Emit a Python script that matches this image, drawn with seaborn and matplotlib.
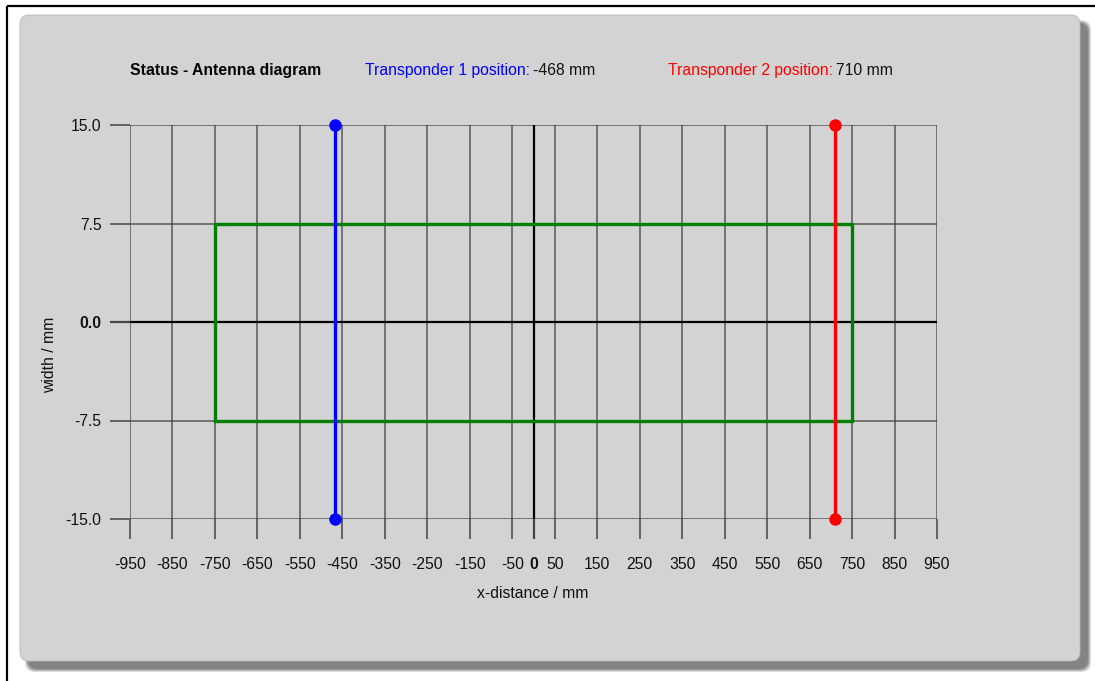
import numpy as np
import pandas as pd
import matplotlib
matplotlib.use("Agg")
import matplotlib.pyplot as plt
import seaborn as sns
from matplotlib.patches import FancyBboxPatch

# chart data
tp_names = ["Transponder 1", "Transponder 2"]
tp_pos = [-468, 710]          # mm
tp_colors = ["#0000ff", "#ff0000"]
width_range = [-15.0, 15.0]   # mm
antenna_x = [-750, 750, 750, -750, -750]
antenna_y = [7.5, 7.5, -7.5, -7.5, 7.5]
x_ticks = sorted(list(range(-950, 951, 100)) + [0])
y_ticks = [-15.0, -7.5, 0.0, 7.5, 15.0]

sns.set_theme(style="white")
plt.rcParams["font.family"] = ["Liberation Sans", "DejaVu Sans"]

W, H = 1095, 681
FS = 11.3
fig = plt.figure(figsize=(W / 100, H / 100), dpi=100)
fig.patch.set_facecolor("white")

# background panel drawn in pixel coordinates
bg = fig.add_axes([0, 0, 1, 1], zorder=-10)
bg.set_xlim(0, W)
bg.set_ylim(H, 0)
bg.axis("off")
for i, a in enumerate([0.25, 0.35, 0.5, 0.7]):
    grow = 3 - i
    bg.add_patch(FancyBboxPatch((28 - grow, 23 - grow), 1060 + 2 * grow, 646 + 2 * grow,
                                boxstyle="round,pad=0,rounding_size=10",
                                fc="#7a7a7a", ec="none", alpha=a))
bg.add_patch(FancyBboxPatch((20, 15), 1060, 646, boxstyle="round,pad=0,rounding_size=9",
                            fc="#d3d3d3", ec="#b8b8b8", lw=0.6))
bg.plot([7, W], [6, 6], color="black", lw=1.6, solid_capstyle="butt")
bg.plot([7, 7], [6, H], color="black", lw=1.6, solid_capstyle="butt")

ax = fig.add_axes([130 / W, 1 - 519 / H, 807 / W, 394 / H])
ax.set_facecolor("none")

# antenna rectangle
sns.lineplot(x=antenna_x, y=antenna_y, sort=False, estimator=None, color="#008000",
             lw=2.4, ax=ax, zorder=3, solid_joinstyle="miter")

# transponder lines
tp_df = pd.DataFrame({
    "name": np.repeat(tp_names, 2),
    "x": np.repeat(tp_pos, 2),
    "y": width_range * len(tp_names),
})
sns.lineplot(data=tp_df, x="x", y="y", hue="name", palette=tp_colors, units="name",
             estimator=None, sort=False, marker="o", markersize=9, markeredgewidth=0,
             lw=2.4, legend=False, ax=ax, zorder=4, clip_on=False)

ax.set_xlim(-950, 950)
ax.set_ylim(-15, 15)
ax.set_xticks(x_ticks)
ax.set_yticks(y_ticks)
ax.set_xticklabels([str(t) for t in x_ticks])
ax.set_yticklabels([f"{t:.1f}" for t in y_ticks])
for s in ax.spines.values():
    s.set_visible(False)
ax.grid(True, color="#3a3a3a", lw=1.1, alpha=0.8, zorder=1)
ax.axhline(0, color="black", lw=1.6, zorder=2)
ax.axvline(0, color="black", lw=1.6, zorder=2)
ax.tick_params(axis="both", bottom=True, left=True, direction="out", length=14.5,
               width=1.1, color="#444444", labelsize=FS, labelcolor="#111111")
ax.tick_params(axis="x", pad=13)
ax.tick_params(axis="y", pad=6)
for lab in ax.get_xticklabels() + ax.get_yticklabels():
    if lab.get_text() in ("0", "0.0"):
        lab.set_fontweight("bold")
# zero ticks drawn black like the zero lines
for tick, val in zip(ax.xaxis.get_major_ticks(), x_ticks):
    if val == 0:
        tick.tick1line.set_color("black")
        tick.tick1line.set_markeredgewidth(1.6)
for tick, val in zip(ax.yaxis.get_major_ticks(), y_ticks):
    if val == 0:
        tick.tick1line.set_color("black")
        tick.tick1line.set_markeredgewidth(1.6)
ax.set_xlabel("")
ax.set_ylabel("")

fig.text(533 / W, 1 - 594 / H, "x-distance / mm", ha="center", va="center",
         fontsize=FS, color="#111111")
fig.text(50 / W, 1 - 355 / H, "width / mm", ha="center", va="center",
         rotation=90, fontsize=FS, color="#111111")

# header
ty = 1 - 75 / H
fig.text(130 / W, ty, "Status - Antenna diagram", ha="left", va="baseline",
         fontsize=FS, fontweight="bold", color="black")
for name, pos, col, x0 in zip(tp_names, tp_pos, tp_colors, [365, 668]):
    t = fig.text(x0 / W, ty, f"{name} position:", ha="left", va="baseline",
                 fontsize=FS, color=col)
    ax.annotate(f"{pos} mm", xy=(1, ty), xycoords=(t, "figure fraction"),
                xytext=(2, 0), textcoords="offset points", ha="left", va="baseline",
                fontsize=FS, color="#111111", annotation_clip=False)

fig.savefig("out.png", dpi=100, facecolor="white")
